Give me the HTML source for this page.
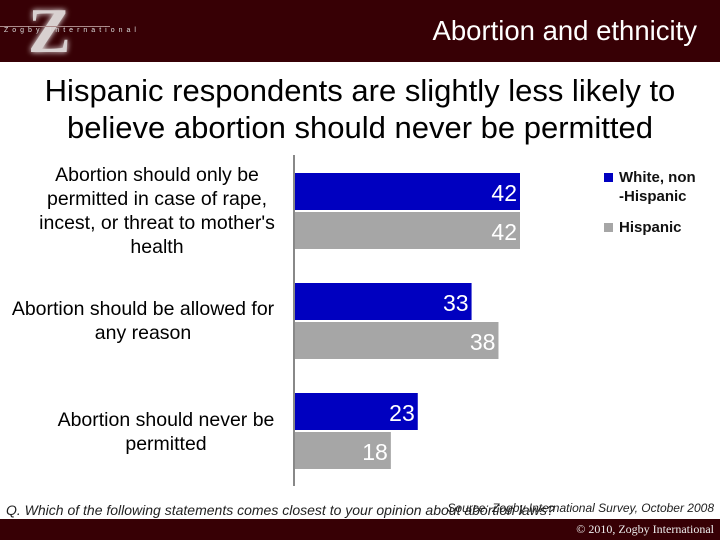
<!DOCTYPE html>
<html><head><meta charset="utf-8"><style>
body{margin:0;width:720px;height:540px;background:#fff;position:relative;overflow:hidden;font-family:"Liberation Sans",sans-serif}
.a{position:absolute}
</style></head><body>
<div class="a" style="left:0;top:0;width:720px;height:62px;background:#370005"></div>
<div class="a" style="left:28px;top:2px;width:42px;height:58px;font:bold 64px 'Liberation Serif',serif;color:#d8d0d0;line-height:58px;text-shadow:0 0 6px #fff">Z</div>
<div class="a" style="left:0;top:26px;width:110px;height:1px;background:#a88"></div>
<div class="a" style="left:4px;top:27px;font-size:7px;letter-spacing:4px;color:#ddd">Zogby International</div>
<div class="a" style="right:23px;top:15px;font-size:27.5px;color:#fff">Abortion and ethnicity</div>
<div class="a" style="left:0;top:72px;width:720px;text-align:center;font-size:31px;line-height:37px;color:#000">Hispanic respondents are slightly less likely to<br>believe abortion should never be permitted</div>
<div class="a" style="left:26px;top:163px;width:262px;text-align:center;font-size:19.5px;line-height:24px">Abortion should only be permitted in case of rape, incest, or threat to mother's health</div>
<div class="a" style="left:0;top:297px;width:286px;text-align:center;font-size:19.5px;line-height:24px">Abortion should be allowed for<br>any reason</div>
<div class="a" style="left:40px;top:408px;width:252px;text-align:center;font-size:19.5px;line-height:24px">Abortion should never be<br>permitted</div>
<svg class="a" id="chart" style="left:0;top:0" width="720" height="540"></svg>
<div class="a" style="left:604px;top:168px;font-size:15px;font-weight:bold;line-height:19px;color:#111"><span style="display:inline-block;width:9px;height:9px;background:#0000c0;margin-right:6px"></span>White, non<br><span style="margin-left:15px">-Hispanic</span></div>
<div class="a" style="left:604px;top:219px;font-size:15px;font-weight:bold;color:#111"><span style="display:inline-block;width:9px;height:9px;background:#a6a6a6;margin-right:6px"></span>Hispanic</div>
<div class="a" style="left:6px;top:502px;font-size:14px;font-style:italic;color:#222">Q. Which of the following statements comes closest to your opinion about abortion laws?</div>
<div class="a" style="right:6px;top:501px;font-size:12px;font-style:italic;color:#222">Source: Zogby International Survey, October 2008</div>
<div class="a" style="left:0;top:519px;width:720px;height:21px;background:#370005"></div>
<div class="a" style="right:6px;top:522px;font:12px 'Liberation Serif',serif;color:#eee">© 2010, Zogby International</div>
<script>
const categories=["only rape/incest/health","any reason","never"];
const whiteValues=[42,33,23];
const hispanicValues=[42,38,18];
const svg=document.getElementById('chart');
const NS='http://www.w3.org/2000/svg';
const x0=294, scale=226/42;
const xs=v=>x0+v*scale;
const groupTop=i=>173+i*110;
function mk(t,a){const e=document.createElementNS(NS,t);for(const k in a)e.setAttribute(k,a[k]);svg.appendChild(e);return e;}
categories.forEach((c,i)=>{
  [[whiteValues,'#0000c0',0,'white'],[hispanicValues,'#a6a6a6',39,'hispanic']].forEach(([arr,col,off,nm])=>{
    const y=groupTop(i)+off, v=arr[i];
    const r=mk('rect',{x:x0,y:y,width:xs(v)-x0,height:37,fill:col});
    
    
    const t=mk('text',{x:xs(v)-3,y:y+28,'text-anchor':'end','font-size':23,fill:'#fff','font-family':'Liberation Sans, sans-serif'});
    t.textContent=v;
    
    
  });
});
const ax=mk('line',{x1:x0,y1:155,x2:x0,y2:486,stroke:'#888','stroke-width':2});


</script>
</body></html>
